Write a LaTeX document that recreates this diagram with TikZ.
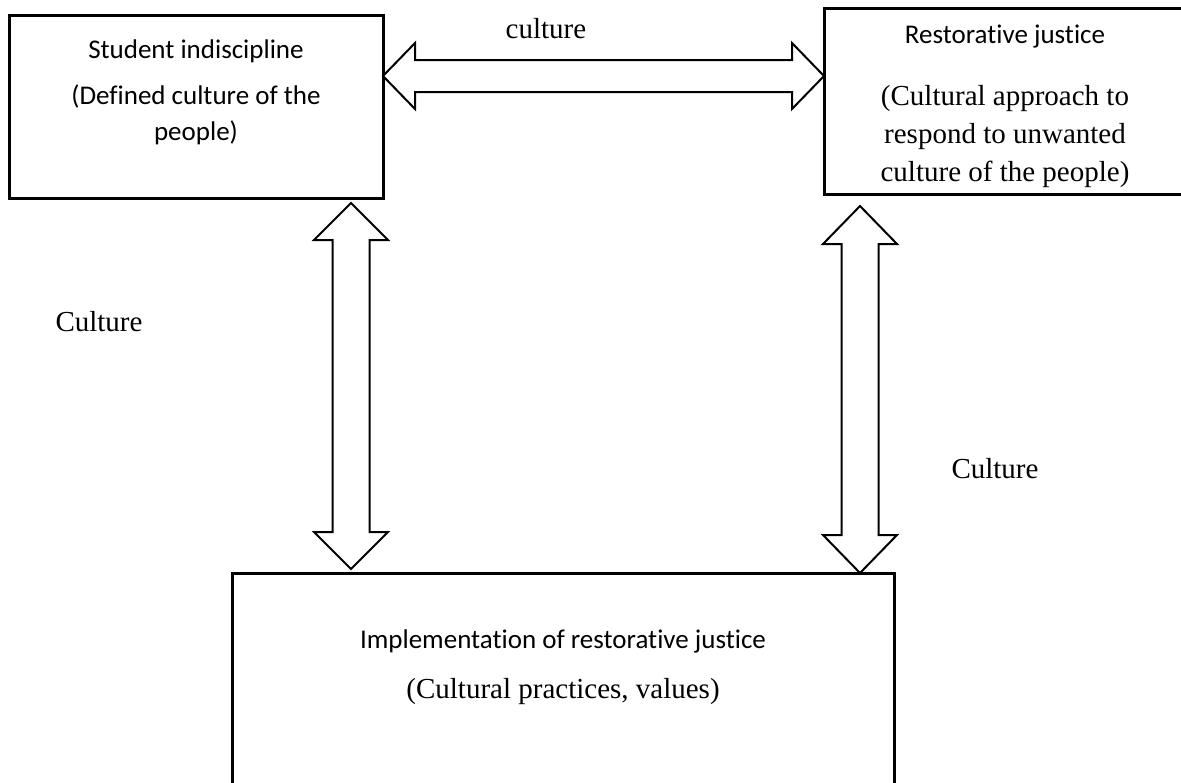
\documentclass[tikz,border=0pt]{standalone}
\usepackage{fontspec}
\setmainfont{Liberation Serif}
\newfontfamily\calibrifont[Ligatures=NoCommon]{Carlito}
\usetikzlibrary{calc}

\tikzset{
  box/.style={draw, line width=3pt, rectangle, inner sep=0pt, outer sep=0pt, anchor=north west},
  sanstext/.style={font=\calibrifont\fontsize{27}{36}\selectfont, align=center, inner sep=0pt},
  seriftext/.style={font=\fontsize{29}{38}\selectfont, align=center, inner sep=0pt},
  blockarrow/.style={draw, line width=2pt, fill=white, line join=miter},
}

% Double-headed block arrow from tip #1 to tip #2:
% #3 shaft half-width, #4 head half-width, #5 head length
\newcommand\dblblockarrow[5]{%
  \coordinate (ta) at (#1);
  \coordinate (tb) at (#2);
  \coordinate (ha) at ($(ta)!#5!(tb)$);
  \coordinate (hb) at ($(tb)!#5!(ta)$);
  \draw[blockarrow] (ta)
    -- ($(ha)!#4!90:(tb)$) -- ($(ha)!#3!90:(tb)$)
    -- ($(hb)!#3!-90:(ta)$) -- ($(hb)!#4!-90:(ta)$)
    -- (tb)
    -- ($(hb)!#4!90:(ta)$) -- ($(hb)!#3!90:(ta)$)
    -- ($(ha)!#3!-90:(tb)$) -- ($(ha)!#4!-90:(tb)$)
    -- cycle;
}

\begin{document}
\begin{tikzpicture}[x=1pt, y=-1pt]
  \useasboundingbox (0,0) rectangle (1181,782);
  \fill[white] (0,0) rectangle (1181,782);
  \clip (0,0) rectangle (1181,782);

  % boxes
  \node[box, minimum width=373.5pt, minimum height=183pt] (b1) at (9.5,15) {};
  \node[box, minimum width=362pt, minimum height=186pt] (b2) at (824,8) {};
  \node[box, minimum width=662pt, minimum height=227pt] (b3) at (232,573) {};

  % box texts
  \node[sanstext] (b1title) at (196,51) {Student indiscipline};
  \node[sanstext] (b1sub) at (196,115) {(Defined culture of the\\people)};
  \node[sanstext] (b2title) at (1005,37) {Restorative justice};
  \node[seriftext] (b2sub) at (1005,137) {(Cultural approach to\\respond to unwanted\\culture of the people)};
  \node[sanstext] (b3title) at (563,641) {Implementation of restorative justice};
  \node[seriftext] (b3sub) at (563,692) {(Cultural practices, values)};

  % connector labels
  \node[seriftext] (ltop) at (546,29) {culture};
  \node[seriftext] (lleft) at (99,322) {Culture};
  \node[seriftext] (lright) at (995,469) {Culture};

  % connectors
  \coordinate (hy) at (0,76);
  \coordinate (vl) at (351,0);
  \coordinate (vr) at (860,0);
  \dblblockarrow{b1.north east |- hy}{b2.north west |- hy}{16pt}{33pt}{32pt}
  \dblblockarrow{$(b1.south -| vl)+(0,5)$}{$(b3.north -| vl)+(0,-4)$}{18.5pt}{37pt}{37pt}
  \dblblockarrow{$(b2.south -| vr)+(0,12)$}{b3.north -| vr}{18.5pt}{37pt}{38pt}
\end{tikzpicture}
\end{document}
